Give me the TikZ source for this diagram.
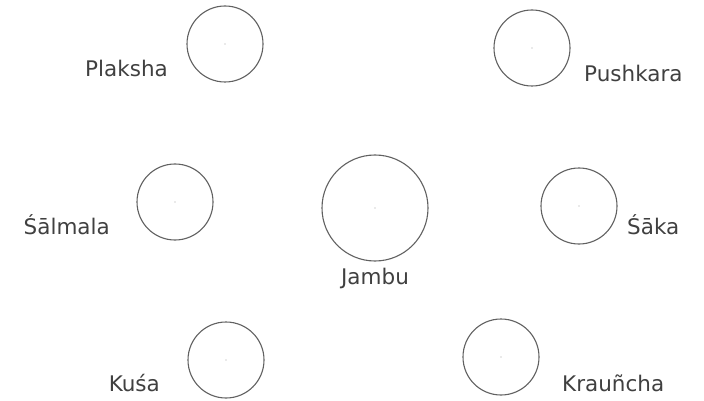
\documentclass[tikz,border=0pt]{standalone}
\usepackage{fontspec}
\setmainfont{DejaVu Sans}
\begin{document}
\begin{tikzpicture}[x=1pt,y=-1pt,
  island/.style={circle,draw=black!62,line width=1.1pt,inner sep=0pt},
  lbl/.style={text=black!75,font=\fontsize{21.5}{26}\selectfont,inner sep=0pt}]
\useasboundingbox (0,0) rectangle (704,401);
\node[island,minimum size=76pt] (plaksha) at (225,44) {};
\node[island,minimum size=76pt] (pushkara) at (532,48) {};
\node[island,minimum size=76pt] (salmala) at (175,202) {};
\node[island,minimum size=106pt] (jambu) at (375,208) {};
\node[island,minimum size=76pt] (saka) at (579,206) {};
\node[island,minimum size=76pt] (kusa) at (226,360) {};
\node[island,minimum size=76pt] (kraun) at (501,357) {};
\foreach \c in {plaksha,pushkara,salmala,jambu,saka,kusa,kraun}
  \fill[black!35] (\c.center) circle (0.6pt);
\node[lbl,anchor=base east] (lplaksha) at (168,77) {Plaksha};
\node[lbl,anchor=base west] (lpushkara) at (584,82) {Pushkara};
\node[lbl,anchor=base east] (lsalmala) at (110,234) {Śālmala};
\node[lbl,anchor=base west] (lsaka) at (627,234) {Śāka};
\node[lbl,anchor=base] (ljambu) at (375,284) {Jambu};
\node[lbl,anchor=base east] (lkusa) at (160,391) {Kuśa};
\node[lbl,anchor=base west] (lkraun) at (562,391) {Krauñcha};
\end{tikzpicture}
\end{document}
